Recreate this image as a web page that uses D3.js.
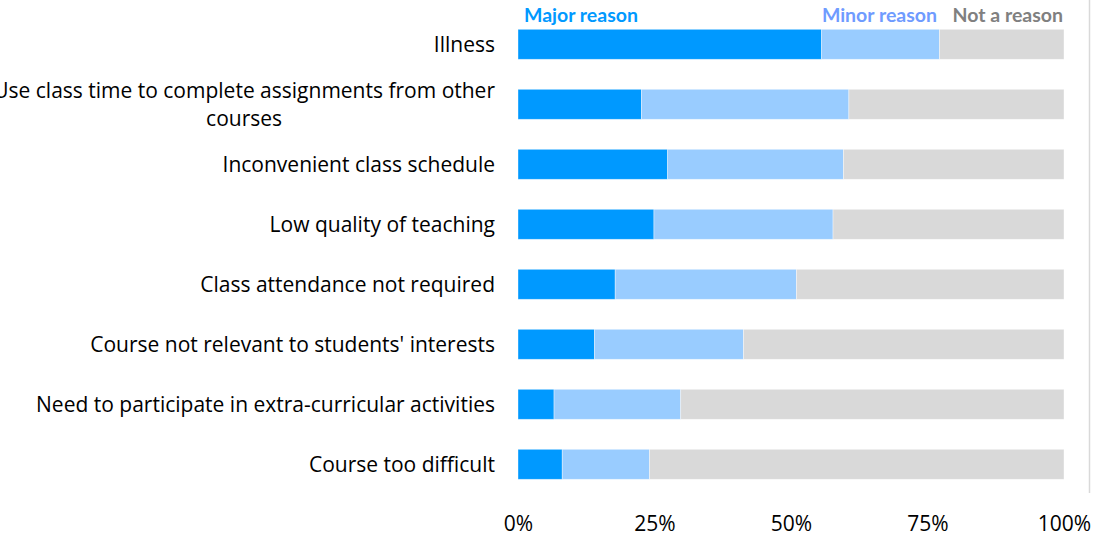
<!DOCTYPE html>
<html>
<head>
<meta charset="utf-8">
<script src="https://cdn.jsdelivr.net/npm/d3@7"></script>
<style>
  body { margin: 0; background: #fff; }
  svg { display: block; font-family: 'Open Sans', Lato, sans-serif; }
</style>
</head>
<body>
<svg width="1095" height="538"></svg>
<script>
const categories = [
  'Illness',
  'Use class time to complete assignments from other courses',
  'Inconvenient class schedule',
  'Low quality of teaching',
  'Class attendance not required',
  "Course not relevant to students' interests",
  'Need to participate in extra-curricular activities',
  'Course too difficult'
]
const majorReason = [55.6, 22.6, 27.4, 24.9, 17.8, 14.0, 6.6, 8.1]
const minorReason = [21.6, 38.0, 32.2, 32.8, 33.2, 27.3, 23.2, 16.0]
const notAReason = [22.8, 39.4, 40.4, 42.3, 49.0, 58.7, 70.2, 75.9]
const seriesNames = ['Major reason', 'Minor reason', 'Not a reason']
const tickValues = [0, 0.25, 0.5, 0.75, 1]

const svg = d3.select('svg')

const rows = categories.map((c, i) => ({
  category: c,
  'Major reason': majorReason[i],
  'Minor reason': minorReason[i],
  'Not a reason': notAReason[i]
}))

const stack = d3.stack().keys(seriesNames).offset(d3.stackOffsetExpand)
const series = stack(rows)

const x = d3.scaleLinear().domain([0, 1]).range([518, 1064])
const y = d3
  .scaleBand()
  .domain(categories)
  .range([14.3, 494.3])
  .paddingInner(0.5)
  .paddingOuter(0.25)

const fill = d3
  .scaleOrdinal()
  .domain(seriesNames)
  .range(['#0099ff', '#99ccff', '#d9d9d9'])
const textColor = d3
  .scaleOrdinal()
  .domain(seriesNames)
  .range(['#0099ff', '#6f9bff', '#808080'])

// the labels in the original are set a little narrower than Open Sans,
// so scale the font so the longest label spans the same width
const probe = svg
  .append('text')
  .attr('font-size', 18)
  .text('Need to participate in extra-curricular activities')
const labelSize = (18 * 459) / probe.node().getComputedTextLength()
probe.remove()

// right border line
svg
  .append('line')
  .attr('x1', 1089.5)
  .attr('x2', 1089.5)
  .attr('y1', 0)
  .attr('y2', 493)
  .attr('stroke', '#d9d9d9')
  .attr('stroke-width', 1.5)

svg
  .append('g')
  .selectAll('g')
  .data(series)
  .enter()
  .append('g')
  .attr('fill', d => fill(d.key))
  .selectAll('rect')
  .data(d => d)
  .enter()
  .append('rect')
  .attr('x', d => x(d[0]))
  .attr('y', d => y(d.data.category))
  .attr('width', d => x(d[1]) - x(d[0]))
  .attr('height', y.bandwidth())
  .attr('stroke', '#ffffff')
  .attr('stroke-opacity', 0.5)
  .attr('stroke-width', 0.75)

// x axis tick labels
const xAxis = svg
  .append('g')
  .attr('transform', 'translate(0,' + 494 + ')')
  .call(
    d3
      .axisBottom(x)
      .tickValues(tickValues)
      .tickFormat(d3.format('.0%'))
      .tickSize(0)
      .tickPadding(22)
  )
xAxis.select('.domain').remove()
xAxis
  .selectAll('text')
  .attr('font-family', "'Open Sans', Lato, sans-serif")
  .attr('font-size', labelSize)
  .attr('fill', '#000')

// category labels, wrapped like the original
const wrapped = {
  'Use class time to complete assignments from other courses': [
    'Use class time to complete assignments from other',
    'courses'
  ]
}
const labels = svg
  .append('g')
  .selectAll('text')
  .data(categories)
  .enter()
  .append('text')
  .attr('x', 495)
  .attr('y', d => y(d) + y.bandwidth() / 2)
  .attr('text-anchor', 'end')
  .attr('font-size', labelSize)
  .attr('fill', '#000')

labels.each(function(d) {
  const lines = wrapped[d]
  const sel = d3.select(this)
  if (!lines) {
    sel.attr('dy', '0.35em').text(d)
    return
  }
  // wrapped label: both lines centred on the first line's centre
  sel.attr('text-anchor', 'middle')
  const first = sel
    .append('tspan')
    .attr('dy', '-0.28em')
    .text(lines[0])
  const cx = 495 - first.node().getComputedTextLength() / 2
  first.attr('x', cx)
  sel
    .append('tspan')
    .attr('x', cx)
    .attr('dy', '1.32em')
    .text(lines[1])
})

// legend above the first bar
const legendPos = [
  { key: 'Major reason', x: 524, anchor: 'start' },
  { key: 'Minor reason', x: 937, anchor: 'end' },
  { key: 'Not a reason', x: 1063, anchor: 'end' }
]
svg
  .append('g')
  .selectAll('text')
  .data(legendPos)
  .enter()
  .append('text')
  .attr('x', d => d.x)
  .attr('y', 22)
  .attr('text-anchor', d => d.anchor)
  .attr('font-family', 'Lato, sans-serif')
  .attr('font-size', 19.5)
  .attr('font-weight', 'bold')
  .attr('fill', d => textColor(d.key))
  .text(d => d.key)
</script>
</body>
</html>
